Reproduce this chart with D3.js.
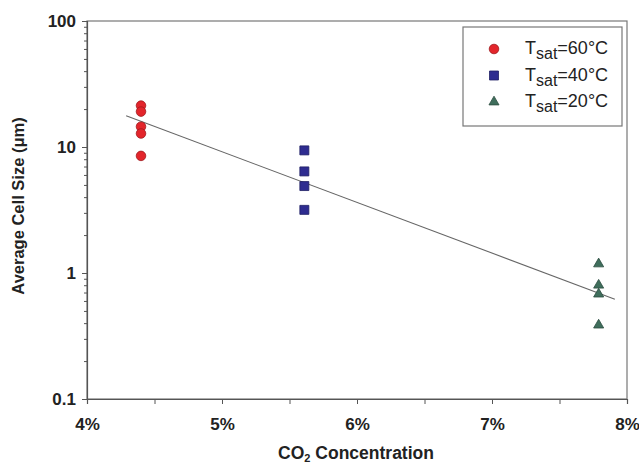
<!DOCTYPE html>
<html>
<head>
<meta charset="utf-8">
<script src="https://cdn.jsdelivr.net/npm/d3@7"></script>
<style>
  body { margin: 0; background: #fff; }
  text { font-family: "Liberation Sans", Arial, sans-serif; }
</style>
</head>
<body>
<script>
// data
var xTicks = [4, 5, 6, 7, 8];
var yTicks = [0.1, 1, 10, 100];

var conc60 = [4.4, 4.4, 4.4, 4.4, 4.4];
var size60 = [21.3, 19.1, 14.5, 12.8, 8.5];

var conc40 = [5.61, 5.61, 5.61, 5.61];
var size40 = [9.4, 6.4, 4.9, 3.17];

var conc20 = [7.79, 7.79, 7.79, 7.79];
var size20 = [1.18, 0.80, 0.68, 0.386];

// trend line end points
var fitConc = [4.29, 7.91];
var fitSize = [17.7, 0.62];

var fullwidth = 639, fullheight = 466;
var margin = {top: 21, right: 12, bottom: 67, left: 87};
var width = fullwidth - margin.left - margin.right;
var height = fullheight - margin.top - margin.bottom;

var svg = d3.select("body").append("svg")
    .attr("width", fullwidth)
    .attr("height", fullheight)
  .append("g")
    .attr("transform", "translate(" + margin.left + "," + margin.top + ")");

var xscale = d3.scaleLinear().domain([4, 8]).range([0, width]);
var yscale = d3.scaleLog().domain([0.1, 100]).range([height, 0]);

var axisColor = "#555";

// frame
svg.append("rect")
    .attr("width", width).attr("height", height)
    .attr("fill", "none").attr("stroke", "#777").attr("stroke-width", 1.2);

// minor ticks x
var xMinor = d3.range(4, 8.01, 0.5);
svg.append("g")
    .attr("transform", "translate(0," + height + ")")
    .call(d3.axisBottom(xscale).tickValues(xMinor).tickSize(5).tickFormat(""))
    .call(function(g) { g.select(".domain").remove(); g.selectAll("line").attr("stroke", axisColor); });

// x axis
svg.append("g")
    .attr("transform", "translate(0," + height + ")")
    .call(d3.axisBottom(xscale).tickValues(xTicks).tickSize(5).tickPadding(14)
      .tickFormat(function(d) { return d + "%"; }))
    .call(function(g) {
      g.select(".domain").attr("stroke", axisColor).attr("stroke-width", 1.2);
      g.selectAll("line").attr("stroke", axisColor);
      g.selectAll("text").attr("font-size", 17).attr("font-weight", "bold").attr("fill", "#222");
    });

// minor ticks y
var yMinor = [];
[0.1, 1, 10].forEach(function(b) { for (var k = 2; k <= 9; k++) yMinor.push(b * k); });
svg.append("g")
    .call(d3.axisLeft(yscale).tickValues(yMinor).tickSize(3).tickFormat(""))
    .call(function(g) { g.select(".domain").remove(); g.selectAll("line").attr("stroke", axisColor); });

// y axis
svg.append("g")
    .call(d3.axisLeft(yscale).tickValues(yTicks).tickSize(5).tickPadding(6)
      .tickFormat(function(d) { return d; }))
    .call(function(g) {
      g.select(".domain").attr("stroke", axisColor).attr("stroke-width", 1.2);
      g.selectAll("line").attr("stroke", axisColor);
      g.selectAll("text").attr("font-size", 17).attr("font-weight", "bold").attr("fill", "#222");
    });

// trend line
svg.append("line")
    .attr("x1", xscale(fitConc[0])).attr("y1", yscale(fitSize[0]))
    .attr("x2", xscale(fitConc[1])).attr("y2", yscale(fitSize[1]))
    .attr("stroke", "#666").attr("stroke-width", 1.1);

// points
var red = "#e3252b", blue = "#2e2c90", green = "#3f6e5c";
var sym60 = d3.symbol().type(d3.symbolCircle).size(72);
var sym40 = d3.symbol().type(d3.symbolSquare).size(81);
var sym20 = d3.symbol().type(d3.symbolTriangle).size(44);

function plot(xs, ys, sym, color) {
  svg.append("g").selectAll("path")
    .data(xs.map(function(x, i) { return [x, ys[i]]; }))
    .enter().append("path")
    .attr("d", sym)
    .attr("transform", function(d) { return "translate(" + xscale(d[0]) + "," + yscale(d[1]) + ")"; })
    .attr("fill", color)
    .attr("stroke", d3.color(color).darker(1))
    .attr("stroke-width", 0.8);
}
plot(conc60, size60, sym60, red);
plot(conc40, size40, sym40, blue);
plot(conc20, size20, sym20, green);

// axis titles
svg.append("text")
    .attr("transform", "translate(" + (356 - margin.left) + "," + (459 - margin.top) + ")")
    .attr("text-anchor", "middle")
    .attr("font-size", 17.5).attr("font-weight", "bold").attr("fill", "#222")
    .call(function(t) {
      t.append("tspan").text("CO");
      t.append("tspan").attr("font-size", 11).attr("dy", 3).text("2");
      t.append("tspan").attr("dy", -3).text(" Concentration");
    });

svg.append("text")
    .attr("transform", "rotate(-90)")
    .attr("x", -(206 - margin.top))
    .attr("y", 24 - margin.left)
    .attr("text-anchor", "middle")
    .attr("font-size", 16.5).attr("font-weight", "bold").attr("fill", "#222")
    .text("Average Cell Size (\u03bcm)");

// legend
var legendX = 463 - margin.left, legendY = 27 - margin.top;
svg.append("rect")
    .attr("x", legendX).attr("y", legendY)
    .attr("width", 159).attr("height", 99)
    .attr("fill", "#fff").attr("stroke", "#777").attr("stroke-width", 1.2);

var legendLabels = ["60", "40", "20"];
var legendSyms = [sym60, sym40, sym20];
var legendColors = [red, blue, green];
var legend = svg.selectAll(".legend")
    .data(legendLabels)
    .enter().append("g")
    .attr("class", "legend")
    .attr("transform", function(d, i) { return "translate(" + legendX + "," + (legendY + 22 + i * 26.5) + ")"; });

legend.append("path")
    .attr("d", function(d, i) { return legendSyms[i](); })
    .attr("transform", "translate(31,0)")
    .attr("fill", function(d, i) { return legendColors[i]; })
    .attr("stroke", function(d, i) { return d3.color(legendColors[i]).darker(1); })
    .attr("stroke-width", 0.8);

legend.append("text")
    .attr("x", 62).attr("y", 5)
    .attr("font-size", 18).attr("fill", "#222")
    .each(function(d) {
      var t = d3.select(this);
      t.append("tspan").text("T");
      t.append("tspan").attr("font-size", 16).attr("dy", 5).text("sat");
      t.append("tspan").attr("dy", -5).text("=" + d + "\u00b0C");
    });
</script>
</body>
</html>
